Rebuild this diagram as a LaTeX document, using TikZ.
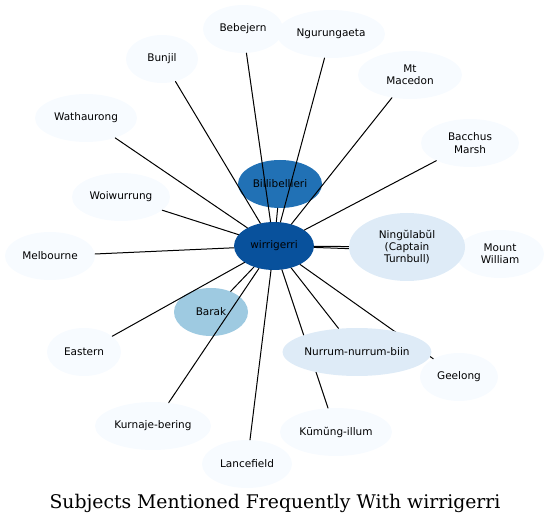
\documentclass[tikz,border=0pt]{standalone}
\usepackage{fontspec}
\setmainfont{DejaVu Serif}
\setsansfont{DejaVu Sans}
\usepackage{xcolor}
\usepackage{tikz}
\usetikzlibrary{shapes.geometric}
\definecolor{wgDark}{HTML}{08519C}
\definecolor{wgMid}{HTML}{2171B5}
\definecolor{wgSoft}{HTML}{9ECAE1}
\definecolor{wgPale}{HTML}{DEEBF7}
\definecolor{wgWash}{HTML}{F7FBFF}
\pgfdeclarelayer{front}
\pgfsetlayers{main,front}
\tikzset{
  wg diagram/.style={x=1pt, y=-1pt, font=\sffamily\fontsize{10.5}{12.3}\selectfont,
    line cap=round, line join=round},
  wg node/.style={ellipse, draw=none, fill=wgWash, inner sep=0pt,
    minimum height=48pt, align=center, text=black},
  wg hub/.style={wg node, fill=wgDark},
  wg strong/.style={wg node, fill=wgMid},
  wg medium/.style={wg node, fill=wgSoft},
  wg light/.style={wg node, fill=wgPale},
  wg edge/.style={draw=black, line width=1pt},
  wg title/.style={font=\rmfamily\fontsize{18.8}{22}\selectfont}
}
\begin{document}
\begin{tikzpicture}[wg diagram]
\useasboundingbox (0,0) rectangle (550,524);
\node[wg hub, minimum width=80pt] (wirrigerri) at (274,246) {wirrigerri};
\node[wg strong, minimum width=84pt] (billibellieri) at (280,184) {Billibellieri};
\node[wg node, minimum width=80pt] (bebejern) at (243,29) {Bebejern};
\node[wg node, minimum width=108pt] (ngurungaeta) at (331,34) {Ngurungaeta};
\node[wg node, minimum width=72pt] (bunjil) at (162,59) {Bunjil};
\node[wg node, minimum width=104pt] (mtmacedon) at (410,75) {Mt\\Macedon};
\node[wg node, minimum width=102pt] (wathaurong) at (86,118) {Wathaurong};
\node[wg node, minimum width=98pt] (bacchus) at (470,143) {Bacchus\\Marsh};
\node[wg node, minimum width=98pt] (woiwurrung) at (121,197) {Woiwurrung};
\node[wg node, minimum width=90pt] (melbourne) at (50,256) {Melbourne};
\node[wg node, minimum width=88pt] (mountwilliam) at (500,254) {Mount\\William};
\node[wg medium, minimum width=74pt] (barak) at (211,312) {Barak};
\node[wg node, minimum width=74pt] (eastern) at (84,352) {Eastern};
\node[wg node, minimum width=78pt] (geelong) at (459,377) {Geelong};
\node[wg node, minimum width=116pt] (kurnaje) at (153,426) {Kurnaje-bering};
\node[wg node, minimum width=112pt] (kumung) at (336,432) {Kūmŭng-illum};
\node[wg node, minimum width=90pt] (lancefield) at (247,464) {Lancefield};
\begin{pgfonlayer}{front}
\node[wg light, minimum width=116pt, minimum height=68pt] (ningulabul) at (407,247) {Ningŭlabŭl\\(Captain\\Turnbull)};
\node[wg light, minimum width=148pt] (nurrum) at (357,352) {Nurrum-nurrum-biin};
\end{pgfonlayer}
% edges from the hub
\foreach \other in {billibellieri,bebejern,ngurungaeta,bunjil,mtmacedon,wathaurong,
    bacchus,woiwurrung,melbourne,ningulabul,mountwilliam,barak,eastern,
    nurrum,geelong,kurnaje,kumung,lancefield}
  \draw[wg edge] (wirrigerri) -- (\other);
\node[wg title] (title) at (275,503) {Subjects Mentioned Frequently With wirrigerri};
\end{tikzpicture}
\end{document}
